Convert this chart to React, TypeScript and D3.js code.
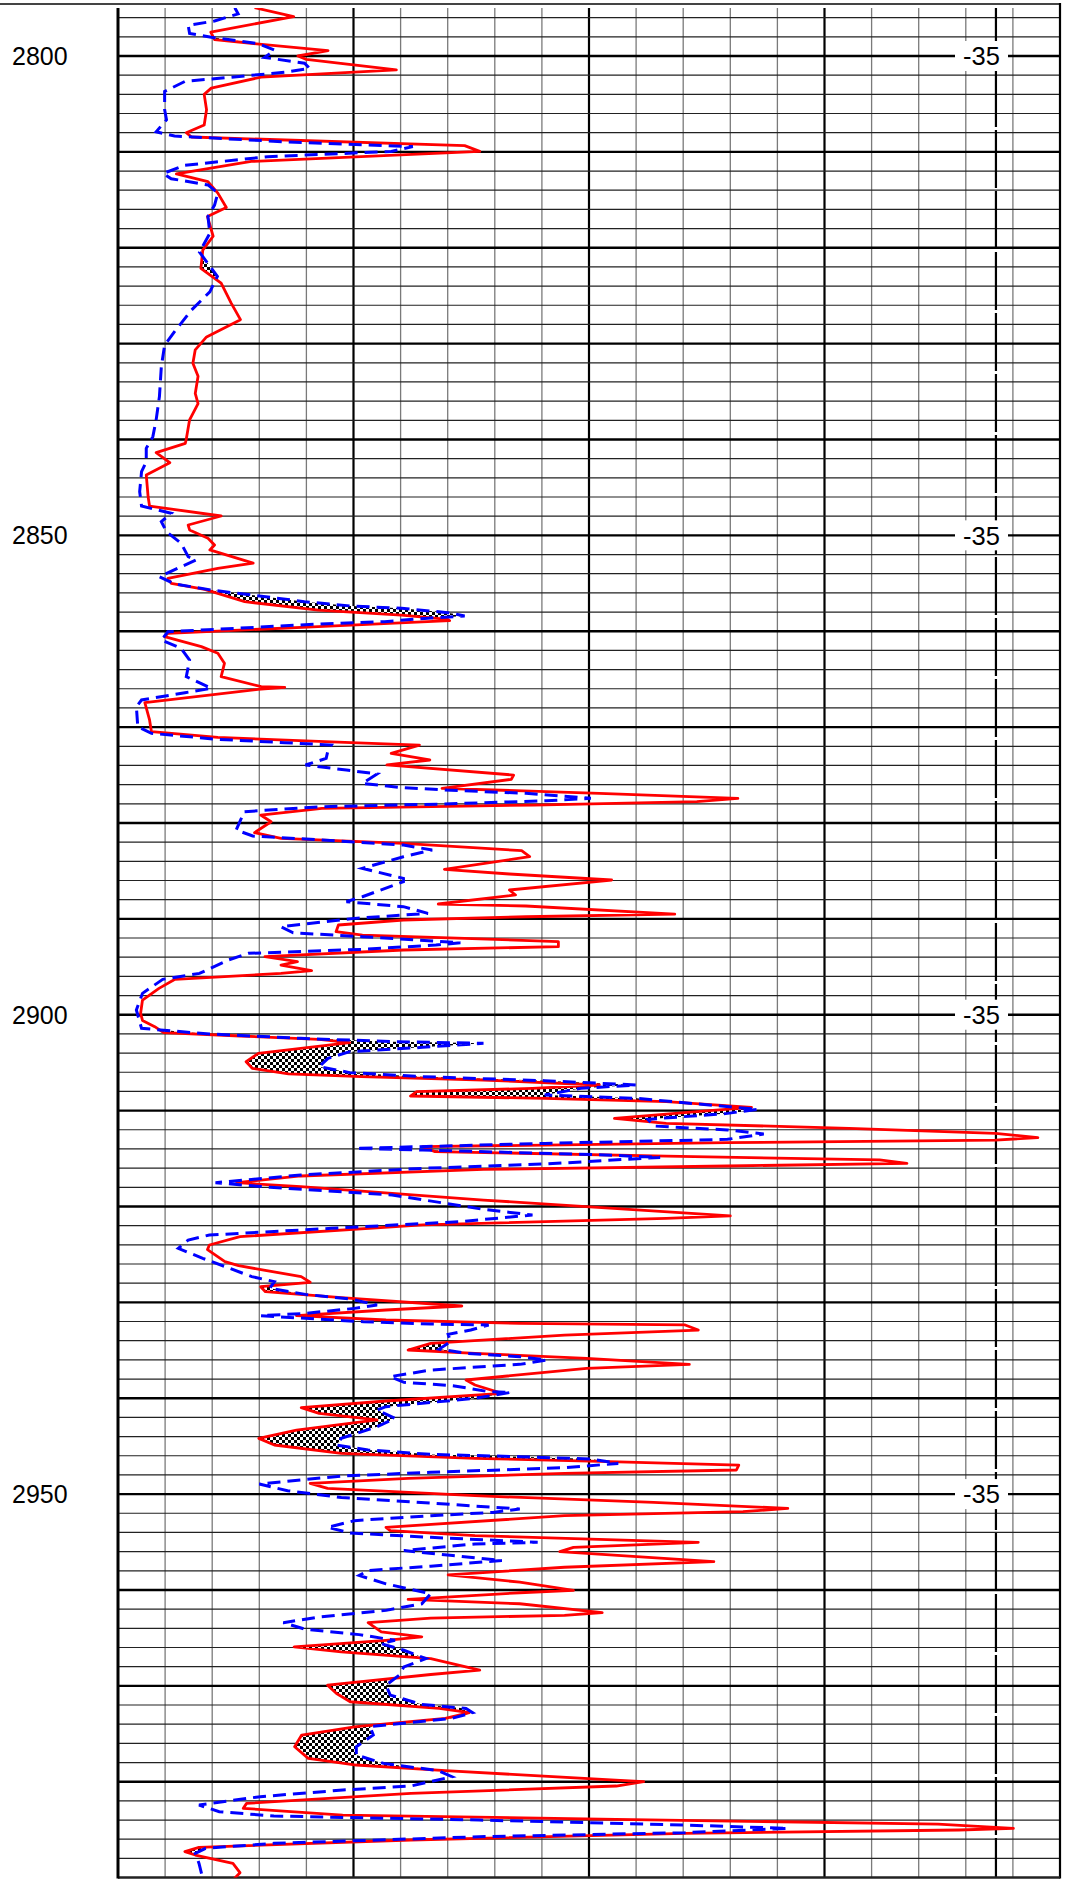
import React, { useEffect, useRef } from 'react';
import * as d3 from 'd3';

// Depth track labels and the shale baseline
const DEPTH_LABELS = [2800, 2850, 2900, 2950];
const BASELINE_VALUE = 18.64;
const BASELINE_LABEL = '-35';

// Red curve: [depth, value in grid divisions]
const RED_CURVE: [number, number][] = [
  [2794.96, 2.9], [2795.9, 3.73], [2797.5, 1.97], [2798.3, 2.05], [2799.45, 4.46], [2800.0, 3.82],
  [2800.35, 4.0], [2801.45, 5.91], [2802.2, 3.04], [2803.35, 1.98], [2804.0, 1.83], [2805.6, 1.88],
  [2807.2, 1.83], [2808.0, 1.45], [2808.45, 1.56], [2809.35, 7.36], [2809.95, 7.68], [2811.0, 2.83],
  [2812.3, 1.24], [2813.1, 1.91], [2814.3, 2.12], [2815.8, 2.3], [2816.75, 1.9], [2818.8, 2.02],
  [2820.25, 1.8], [2822.15, 1.76], [2823.7, 2.19], [2825.75, 2.4], [2827.5, 2.6], [2829.3, 1.88],
  [2830.65, 1.64], [2832.05, 1.59], [2833.4, 1.7], [2835.2, 1.64], [2836.25, 1.7], [2837.95, 1.52],
  [2839.95, 1.45], [2840.4, 1.43], [2841.37, 0.81], [2842.42, 1.1], [2843.7, 0.6], [2846.0, 0.64],
  [2846.94, 0.67], [2847.98, 2.19], [2848.92, 1.49], [2849.44, 1.52], [2850.3, 1.91], [2851.0, 2.05],
  [2851.52, 1.95], [2852.9, 2.87], [2853.44, 2.12], [2854.48, 1.06], [2855.0, 1.13], [2855.63, 1.84],
  [2856.92, 2.69], [2857.79, 4.25], [2858.31, 6.02], [2858.76, 7.0], [2858.9, 7.04], [2859.52, 4.25],
  [2860.22, 1.06], [2860.57, 0.99], [2861.61, 1.77], [2862.3, 2.12], [2863.35, 2.26], [2864.74, 2.19],
  [2865.78, 3.04], [2865.85, 3.54], [2866.06, 2.97], [2867.45, 0.57], [2869.25, 0.67], [2870.48, 0.71],
  [2871.07, 2.12], [2871.62, 4.95], [2871.87, 6.4], [2872.74, 5.8], [2873.43, 6.62], [2873.95, 5.71],
  [2875.0, 8.4], [2875.45, 8.35], [2876.39, 6.88], [2876.91, 10.22], [2877.43, 13.16], [2877.78, 12.29],
  [2878.13, 8.83], [2878.47, 4.33], [2879.17, 3.03], [2879.87, 3.25], [2881.01, 2.9], [2881.6, 3.46],
  [2882.13, 6.06], [2882.89, 8.57], [2883.52, 8.74], [2884.84, 6.93], [2885.32, 8.31], [2885.95, 10.48],
  [2886.99, 8.31], [2887.51, 8.44], [2888.45, 6.8], [2888.66, 8.66], [2889.5, 11.82], [2889.78, 8.66],
  [2890.12, 6.06], [2890.64, 4.68], [2891.34, 4.63], [2891.69, 5.19], [2892.03, 7.36], [2892.38, 9.35],
  [2892.9, 9.35], [2893.25, 6.06], [2893.95, 3.12], [2894.47, 3.81], [2894.82, 3.46], [2895.41, 4.11],
  [2895.69, 3.46], [2896.31, 1.21], [2897.25, 0.87], [2898.47, 0.52], [2899.86, 0.48], [2900.6, 0.52],
  [2901.25, 0.78], [2901.87, 0.97], [2902.22, 2.59], [2902.57, 4.27], [2902.91, 4.92], [2903.51, 3.88],
  [2904.03, 2.98], [2904.9, 2.72], [2905.59, 2.85], [2906.18, 3.62], [2906.46, 5.17], [2906.81, 7.76],
  [2907.33, 10.22], [2907.68, 8.8], [2908.03, 6.34], [2908.48, 6.21], [2908.72, 9.06], [2909.07, 11.64],
  [2909.66, 13.45], [2910.11, 12.29], [2910.81, 10.54], [2911.33, 11.64], [2911.85, 15.52], [2912.37, 18.63],
  [2912.82, 19.53], [2913.07, 18.63], [2913.35, 12.94], [2913.76, 6.47], [2914.28, 6.73], [2914.74, 11.64],
  [2915.15, 16.17], [2915.5, 16.75], [2915.78, 12.94], [2916.13, 7.76], [2916.82, 3.88], [2917.52, 2.52],
  [2917.94, 3.88], [2919.33, 7.76], [2920.99, 13.0], [2921.24, 11.64], [2921.93, 6.47], [2923.15, 2.59],
  [2924.02, 1.94], [2924.5, 1.9], [2925.76, 2.27], [2926.18, 2.56], [2927.32, 3.89], [2927.91, 4.08],
  [2928.37, 3.03], [2928.89, 3.13], [2929.51, 4.74], [2930.38, 7.3], [2930.8, 5.69], [2931.39, 3.79],
  [2931.84, 5.69], [2932.19, 8.53], [2932.36, 12.04], [2932.89, 12.32], [2933.41, 9.48], [2934.28, 6.64],
  [2934.97, 6.16], [2935.32, 7.58], [2935.84, 9.95], [2936.47, 12.13], [2936.89, 9.95], [2938.1, 7.39],
  [2938.62, 7.58], [2939.49, 8.15], [2940.29, 5.69], [2940.99, 3.89], [2941.58, 4.27], [2942.27, 5.5],
  [2943.32, 3.79], [2944.19, 2.99], [2944.88, 3.32], [2945.75, 4.74], [2946.27, 7.58], [2946.62, 10.43],
  [2946.97, 13.18], [2947.49, 13.13], [2947.84, 9.48], [2948.36, 6.16], [2948.88, 4.08], [2949.41, 4.45],
  [2950.17, 7.58], [2950.87, 11.37], [2951.49, 14.22], [2951.84, 13.27], [2952.25, 9.48], [2953.47, 5.69],
  [2953.81, 5.78], [2954.33, 7.58], [2955.03, 12.32], [2955.55, 9.67], [2956.0, 9.38], [2957.04, 12.65],
  [2957.63, 9.48], [2958.42, 7.01], [2959.19, 8.53], [2960.05, 9.67], [2960.29, 8.53], [2960.99, 6.16],
  [2961.44, 8.53], [2962.37, 10.28], [2962.65, 9.48], [2962.93, 6.64], [2963.41, 5.31], [2964.38, 5.59],
  [2964.9, 6.45], [2965.25, 5.69], [2965.94, 3.74], [2966.46, 4.74], [2967.16, 6.64], [2968.37, 7.68],
  [2968.82, 6.64], [2969.93, 4.45], [2970.8, 4.64], [2971.66, 4.93], [2972.36, 6.82], [2972.8, 7.46],
  [2973.39, 6.95], [2974.26, 5.06], [2975.13, 3.9], [2976.35, 3.75], [2977.57, 4.04], [2978.26, 5.06],
  [2978.85, 6.95], [2980.0, 11.16], [2980.45, 10.58], [2981.22, 6.22], [2982.26, 2.73], [2982.78, 2.66],
  [2983.48, 4.77], [2983.93, 10.58], [2984.42, 17.41], [2984.87, 19.01], [2985.04, 17.85], [2985.39, 12.03],
  [2986.08, 6.22], [2986.85, 1.72], [2987.3, 1.42], [2987.65, 1.64], [2988.52, 2.44], [2989.49, 2.59],
  [2990.26, 2.44],
];

// Blue dashed curve: [depth, value in grid divisions]
const BLUE_CURVE: [number, number][] = [
  [2794.96, 2.48], [2795.6, 2.55], [2796.35, 2.05], [2796.8, 1.49], [2797.65, 1.52], [2798.05, 1.98],
  [2798.7, 2.97], [2799.4, 3.33], [2800.15, 3.11], [2800.75, 3.96], [2801.3, 4.07], [2801.7, 3.54],
  [2802.65, 1.42], [2803.7, 0.99], [2805.6, 0.99], [2806.65, 1.03], [2807.9, 0.81], [2808.35, 1.2],
  [2808.95, 3.54], [2809.45, 6.26], [2809.95, 5.8], [2810.5, 3.18], [2811.4, 1.42], [2812.25, 0.96],
  [2812.8, 1.13], [2813.45, 1.91], [2814.3, 2.12], [2815.55, 2.05], [2816.75, 1.91], [2818.5, 1.95],
  [2820.45, 1.73], [2821.65, 1.91], [2823.0, 2.11], [2824.6, 1.95], [2826.5, 1.56], [2828.75, 1.2],
  [2830.15, 0.99], [2832.4, 0.92], [2835.5, 0.88], [2837.95, 0.81], [2839.7, 0.74], [2840.92, 0.6],
  [2842.31, 0.6], [2843.36, 0.5], [2845.44, 0.46], [2846.94, 0.5], [2847.7, 1.13], [2848.57, 0.92],
  [2849.62, 1.03], [2850.83, 1.34], [2852.22, 1.49], [2852.57, 1.66], [2853.27, 1.34], [2854.31, 0.88],
  [2855.07, 1.2], [2855.7, 1.98], [2856.22, 2.83], [2856.92, 3.96], [2857.37, 4.95], [2857.61, 6.02],
  [2858.06, 7.0], [2858.41, 7.36], [2858.66, 6.51], [2859.0, 5.66], [2859.25, 4.25], [2859.7, 2.48],
  [2860.05, 1.06], [2860.92, 0.92], [2861.79, 1.34], [2863.0, 1.52], [2864.74, 1.45], [2865.96, 1.98],
  [2866.41, 1.42], [2867.17, 0.5], [2867.87, 0.39], [2869.96, 0.42], [2870.65, 0.71], [2871.28, 2.12],
  [2871.62, 3.54], [2871.87, 4.53], [2872.39, 4.46], [2873.26, 4.42], [2873.95, 3.98], [2874.48, 4.85],
  [2874.89, 5.5], [2875.87, 5.19], [2876.28, 5.97], [2876.56, 6.93], [2876.91, 8.66], [2877.43, 10.04],
  [2877.68, 9.09], [2878.02, 6.93], [2878.3, 4.33], [2878.82, 2.68], [2880.73, 2.51], [2881.36, 2.86],
  [2881.78, 4.33], [2882.3, 6.06], [2882.82, 6.67], [2883.52, 6.06], [2884.73, 5.19], [2885.78, 6.06],
  [2886.12, 6.06], [2887.69, 5.19], [2888.21, 4.85], [2888.73, 6.06], [2889.43, 6.58], [2889.95, 5.02],
  [2890.82, 3.46], [2891.45, 3.72], [2891.86, 5.19], [2892.49, 7.27], [2892.73, 6.75], [2893.18, 5.19],
  [2893.6, 2.77], [2894.3, 2.34], [2895.69, 1.73], [2896.31, 0.95], [2897.77, 0.52], [2899.51, 0.39],
  [2901.42, 0.5], [2902.01, 1.94], [2902.46, 3.88], [2902.81, 5.82], [2902.98, 7.76], [2903.4, 6.47],
  [2903.85, 4.92], [2904.55, 4.46], [2905.42, 4.27], [2906.04, 4.92], [2906.46, 6.47], [2906.88, 9.06],
  [2907.33, 11.0], [2907.68, 9.83], [2908.37, 9.06], [2908.72, 11.0], [2909.87, 13.58], [2910.29, 12.94],
  [2910.91, 11.25], [2911.61, 11.38], [2912.02, 12.94], [2912.44, 13.71], [2913.0, 12.94], [2913.42, 9.06],
  [2913.94, 5.05], [2914.11, 6.47], [2914.63, 10.35], [2914.88, 11.51], [2915.57, 9.06], [2916.02, 6.47],
  [2916.72, 3.88], [2917.52, 2.07], [2918.0, 3.23], [2918.8, 5.82], [2920.3, 7.76], [2920.89, 8.8],
  [2921.59, 7.24], [2922.28, 4.53], [2922.98, 1.94], [2923.5, 1.49], [2924.37, 1.28], [2925.41, 1.8],
  [2926.45, 2.37], [2927.32, 2.84], [2927.84, 3.32], [2928.54, 3.22], [2929.17, 3.98], [2929.65, 4.93],
  [2930.28, 5.5], [2930.63, 5.02], [2931.15, 3.98], [2931.39, 3.03], [2931.67, 3.98], [2932.02, 5.21],
  [2932.26, 6.64], [2932.36, 7.87], [2932.89, 7.49], [2933.34, 7.01], [2934.1, 7.06], [2934.87, 6.82],
  [2935.32, 7.39], [2935.67, 8.53], [2936.02, 9.1], [2936.47, 8.53], [2937.06, 6.64], [2937.75, 5.78],
  [2938.35, 6.07], [2938.69, 7.11], [2939.32, 7.87], [2939.39, 8.34], [2940.01, 7.58], [2940.88, 5.69],
  [2941.23, 5.5], [2942.1, 5.88], [2942.97, 5.5], [2944.19, 4.74], [2944.88, 4.64], [2945.4, 5.31],
  [2945.86, 6.64], [2946.1, 8.53], [2946.34, 10.05], [2946.8, 10.62], [2947.25, 9.48], [2947.73, 6.64],
  [2948.12, 4.74], [2948.95, 3.0], [2949.65, 3.6], [2950.35, 4.74], [2950.94, 6.64], [2951.56, 8.53],
  [2951.91, 7.96], [2952.25, 6.64], [2952.77, 5.02], [2953.47, 4.45], [2954.06, 4.93], [2954.51, 6.64],
  [2955.03, 8.91], [2955.2, 7.58], [2955.89, 6.07], [2956.41, 7.11], [2956.93, 8.15], [2957.52, 6.64],
  [2957.97, 5.31], [2958.49, 5.12], [2959.36, 5.69], [2960.4, 6.64], [2961.44, 6.45], [2962.13, 5.69],
  [2962.82, 4.27], [2963.41, 3.51], [2964.11, 3.98], [2964.66, 5.12], [2965.25, 5.88], [2965.6, 5.59],
  [2966.29, 6.07], [2967.16, 6.54], [2968.02, 6.07], [2968.89, 5.97], [2969.93, 5.69], [2970.97, 5.78],
  [2971.94, 6.45], [2972.36, 7.39], [2972.8, 7.53], [2973.39, 7.09], [2974.26, 5.35], [2975.13, 5.42],
  [2976.35, 5.06], [2977.22, 5.06], [2978.09, 5.64], [2978.85, 6.8], [2979.48, 7.09], [2980.45, 6.22],
  [2980.87, 4.77], [2981.56, 3.02], [2982.43, 1.72], [2983.13, 2.15], [2983.58, 3.31], [2984.0, 7.67],
  [2984.52, 12.03], [2984.87, 14.22], [2985.32, 12.03], [2985.74, 7.67], [2986.43, 3.31], [2986.95, 1.86],
  [2987.48, 1.64], [2988.52, 1.72], [2989.91, 1.79],
];

interface CrossRow {
  depth: number;
  red: number;
  blue: number;
}

const WIDTH = 1071;
const HEIGHT = 1880;
const FONT = '"Liberation Sans", Arial, sans-serif';

// linear lookup of a curve at a given depth
const valueAt = (curve: [number, number][], depth: number) => {
  const i = d3.bisector((p: [number, number]) => p[0]).left(curve, depth);
  if (i <= 0) return curve[0][1];
  if (i >= curve.length) return curve[curve.length - 1][1];
  const [d0, v0] = curve[i - 1];
  const [d1, v1] = curve[i];
  return v0 + ((depth - d0) / (d1 - d0)) * (v1 - v0);
};

const App: React.FC = () => {
  const svgRef = useRef<SVGSVGElement>(null);

  useEffect(() => {
    if (!svgRef.current) return;
    const svg = d3.select(svgRef.current);
    svg.selectAll('*').remove();

    const left = 118;
    const right = 1060;

    const x = d3.scaleLinear().domain([0, 20]).range([left, right]);
    const y = d3.scaleLinear().domain([2800, 2980]).range([56, 1781.7]);
    const top = y(2795);
    const bottom = y(2990);

    const defs = svg.append('defs');
    const pattern = defs
      .append('pattern')
      .attr('id', 'checker')
      .attr('width', 6)
      .attr('height', 6)
      .attr('patternUnits', 'userSpaceOnUse');
    pattern.append('rect').attr('width', 6).attr('height', 6).attr('fill', '#fff');
    pattern.append('rect').attr('width', 3).attr('height', 3).attr('fill', '#000');
    pattern.append('rect').attr('x', 3).attr('y', 3).attr('width', 3).attr('height', 3).attr('fill', '#000');

    defs
      .append('clipPath')
      .attr('id', 'track-clip')
      .append('rect')
      .attr('x', left)
      .attr('y', top)
      .attr('width', right - left)
      .attr('height', bottom - top);

    svg.append('rect').attr('width', WIDTH).attr('height', HEIGHT).attr('fill', '#fff');

    // Vertical grid
    const grid = svg.append('g');
    d3.range(1, 20).forEach(v => {
      const major = v % 5 === 0;
      grid
        .append('line')
        .attr('x1', x(v))
        .attr('x2', x(v))
        .attr('y1', top)
        .attr('y2', bottom)
        .attr('stroke', major ? '#000' : '#7a7a7a')
        .attr('stroke-width', major ? 2.2 : 1.3);
    });

    // Horizontal grid, every 2 m, heavy every 10 m
    d3.range(2796, 2990, 2).forEach(d => {
      const major = d % 10 === 0;
      grid
        .append('line')
        .attr('x1', left)
        .attr('x2', right)
        .attr('y1', y(d))
        .attr('y2', y(d))
        .attr('stroke', major ? '#000' : '#222')
        .attr('stroke-width', major ? 2.4 : 1.2);
    });

    // Baseline
    svg
      .append('line')
      .attr('x1', x(BASELINE_VALUE))
      .attr('x2', x(BASELINE_VALUE))
      .attr('y1', top)
      .attr('y2', bottom)
      .attr('stroke', '#000')
      .attr('stroke-width', 2.2)
      .attr('stroke-dasharray', '58,3');

    // Borders
    svg.append('line').attr('x1', 0).attr('x2', right).attr('y1', 4).attr('y2', 4)
      .attr('stroke', '#444').attr('stroke-width', 2);
    svg.append('line').attr('x1', right).attr('x2', right).attr('y1', 3).attr('y2', bottom + 1)
      .attr('stroke', '#000').attr('stroke-width', 2.2);
    svg.append('line').attr('x1', left).attr('x2', right).attr('y1', bottom).attr('y2', bottom)
      .attr('stroke', '#222').attr('stroke-width', 2.5);
    svg.append('line').attr('x1', left).attr('x2', left).attr('y1', top).attr('y2', bottom + 1)
      .attr('stroke', '#000').attr('stroke-width', 3);

    // Baseline labels
    DEPTH_LABELS.forEach(d => {
      svg
        .append('rect')
        .attr('x', 955)
        .attr('y', y(d) - 15)
        .attr('width', 53)
        .attr('height', 30)
        .attr('fill', '#fff');
      svg
        .append('text')
        .attr('x', 981.5)
        .attr('y', y(d))
        .attr('dy', '0.36em')
        .attr('text-anchor', 'middle')
        .attr('font-family', FONT)
        .attr('font-size', 25.5)
        .attr('fill', '#000')
        .text(BASELINE_LABEL);
    });

    // Depth labels
    DEPTH_LABELS.forEach(d => {
      svg
        .append('text')
        .attr('x', 12)
        .attr('y', y(d))
        .attr('dy', '0.36em')
        .attr('font-family', FONT)
        .attr('font-size', 25)
        .attr('fill', '#000')
        .text(d);
    });

    // Crossover fill where the blue curve reads higher than the red curve
    const start = Math.max(RED_CURVE[0][0], BLUE_CURVE[0][0]);
    const end = Math.min(RED_CURVE[RED_CURVE.length - 1][0], BLUE_CURVE[BLUE_CURVE.length - 1][0]);
    const depths = Array.from(
      new Set([...RED_CURVE, ...BLUE_CURVE].map(p => p[0]).filter(d => d >= start && d <= end))
    ).sort((a, b) => a - b);
    const rows: CrossRow[] = [];
    depths.forEach((d, i) => {
      const red = valueAt(RED_CURVE, d);
      const blue = valueAt(BLUE_CURVE, d);
      if (i > 0) {
        const prev = rows[rows.length - 1];
        const diffPrev = prev.blue - prev.red;
        const diff = blue - red;
        if (diffPrev * diff < 0) {
          const t = diffPrev / (diffPrev - diff);
          const cr = prev.red + t * (red - prev.red);
          rows.push({ depth: prev.depth + t * (d - prev.depth), red: cr, blue: cr });
        }
      }
      rows.push({ depth: d, red, blue });
    });

    const curves = svg.append('g').attr('clip-path', 'url(#track-clip)');

    const fillArea = d3
      .area<CrossRow>()
      .y(d => y(d.depth))
      .x0(d => x(d.red))
      .x1(d => x(Math.max(d.red, d.blue)));

    curves.append('path').datum(rows).attr('d', fillArea).attr('fill', 'url(#checker)');

    const curveLine = d3
      .line<[number, number]>()
      .x(d => x(d[1]))
      .y(d => y(d[0]));

    curves
      .append('path')
      .datum(RED_CURVE)
      .attr('d', curveLine)
      .attr('fill', 'none')
      .attr('stroke', '#ff0000')
      .attr('stroke-width', 2.8)
      .attr('stroke-linejoin', 'round');

    curves
      .append('path')
      .datum(BLUE_CURVE)
      .attr('d', curveLine)
      .attr('fill', 'none')
      .attr('stroke', '#0000ff')
      .attr('stroke-width', 3)
      .attr('stroke-dasharray', '13,7');
  }, []);

  return (
    <div style={{ position: 'absolute', left: 0, top: 0, width: WIDTH, height: HEIGHT, background: '#fff' }}>
      <svg ref={svgRef} width={WIDTH} height={HEIGHT} style={{ display: 'block' }}></svg>
    </div>
  );
};

export default App;
